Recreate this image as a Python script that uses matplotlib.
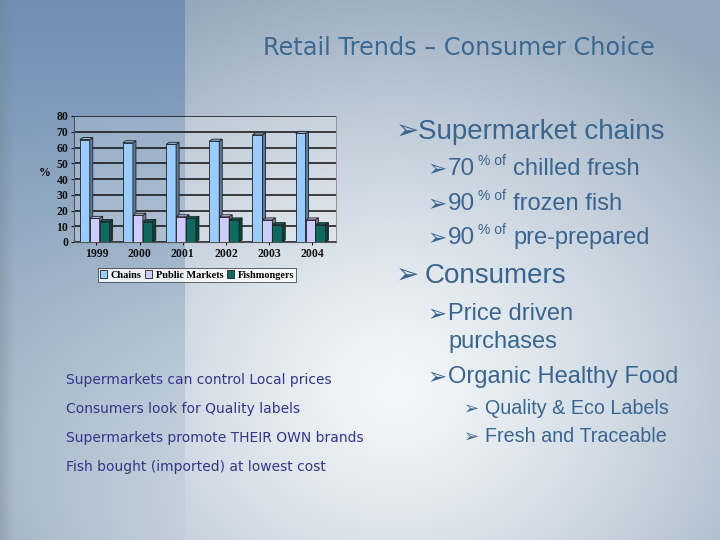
import numpy as np
import matplotlib.pyplot as plt
from matplotlib.colors import to_rgb
from matplotlib.patches import Polygon

# data
years = ['1999', '2000', '2001', '2002', '2003', '2004']
chains = [65, 63, 62, 64, 68, 69]
public_markets = [15, 17, 16, 16, 14, 14]
fishmongers = [13, 13, 15, 14, 11, 11]
series_names = ['Chains', 'Public Markets', 'Fishmongers']
series_colors = ['#99ccff', '#ccccff', '#0d6a60']

W, H = 720, 540
fig = plt.figure(figsize=(7.2, 5.4), dpi=100)

# slide background
bg = fig.add_axes([0, 0, 1, 1])
yy, xx = np.mgrid[0:H, 0:W] / np.array([H, W])[:, None, None]
d = np.sqrt(((xx - 0.55) / 0.68) ** 2 + ((yy - 0.72) / 0.8) ** 2)
light = np.array([0.95, 0.97, 0.98])
dark = np.array([0.58, 0.65, 0.73])
t = np.clip(d, 0, 1)[..., None] ** 1.3
img = light * (1 - t) + dark * t
# left band, strong at the top and fading out lower down
band = xx < 185 / W
top_c = np.array([0.44, 0.56, 0.71])
bot_c = np.array([0.70, 0.77, 0.82])
tb = yy[..., None]
band_col = top_c * (1 - tb) + bot_c * tb
mix = np.clip(1.1 - yy * 0.9, 0.15, 1)[..., None]
img = np.where(band[..., None], band_col * mix + img * (1 - mix), img)
edge = np.clip(1 - xx * W / 14, 0, 1)[..., None] * 0.35
img = img * (1 - edge) + np.array([0.45, 0.5, 0.52]) * edge
bg.imshow(img, extent=[0, W, H, 0], aspect='auto', interpolation='bilinear')
bg.set_xlim(0, W)
bg.set_ylim(H, 0)
bg.axis('off')

# title
bg.text(459, 48, 'Retail Trends \u2013 Consumer Choice', fontsize=17.3, color='#3a6891',
        ha='center', va='center', family='DejaVu Sans')

sans = ['Liberation Sans', 'DejaVu Sans']
txt_c = '#3a6591'
arrow = '\u27a2'

bg.text(396, 133, arrow, fontsize=20, color=txt_c, va='center', family=sans)
bg.text(418, 132, 'Supermarket chains', fontsize=20, color=txt_c, va='center', family=sans)

sub = [(169, '70', 'chilled fresh'), (204, '90', 'frozen fish'), (238, '90', 'pre-prepared')]
for y, num, rest in sub:
    bg.text(427, y + 1, arrow, fontsize=16.5, color=txt_c, va='center', family=sans)
    bg.text(448, y, num, fontsize=17.5, color=txt_c, va='center', family=sans)
    bg.text(478, y - 8, '% of', fontsize=10, color=txt_c, va='center', family=sans)
    bg.text(513, y, rest, fontsize=17, color=txt_c, va='center', family=sans)

bg.text(396, 277, arrow, fontsize=20, color=txt_c, va='center', family=sans)
bg.text(425, 276, 'Consumers', fontsize=20, color=txt_c, va='center', family=sans)
bg.text(427, 315, arrow, fontsize=16.5, color=txt_c, va='center', family=sans)
bg.text(448, 314, 'Price driven', fontsize=17, color=txt_c, va='center', family=sans)
bg.text(448, 342, 'purchases', fontsize=17, color=txt_c, va='center', family=sans)
bg.text(427, 378, arrow, fontsize=16.5, color=txt_c, va='center', family=sans)
bg.text(448, 377, 'Organic Healthy Food', fontsize=17, color=txt_c, va='center', family=sans)
bg.text(464, 409, arrow, fontsize=13, color=txt_c, va='center', family=sans)
bg.text(485, 408, 'Quality & Eco Labels', fontsize=14.2, color=txt_c, va='center', family=sans)
bg.text(464, 437, arrow, fontsize=13, color=txt_c, va='center', family=sans)
bg.text(485, 436, 'Fresh and Traceable', fontsize=14.2, color=txt_c, va='center', family=sans)

notes = ['Supermarkets can control Local prices', 'Consumers look for Quality labels',
         'Supermarkets promote THEIR OWN brands', 'Fish bought (imported) at lowest cost']
for i, s in enumerate(notes):
    bg.text(66, 380 + i * 29, s, fontsize=10, color='#34368c', va='center', family='DejaVu Sans')

# chart
ax = fig.add_axes([74 / W, 1 - 242 / H, (336 - 74) / W, (242 - 116) / H])
ax.set_facecolor((1, 1, 1, 0.18))
x = np.arange(len(years))
bw = 0.23
dx, dy = 0.07, 1.3
values = [chains, public_markets, fishmongers]
for k, (vals, col) in enumerate(zip(values, series_colors)):
    xs = x + (k - 1) * bw - 0.04
    ax.bar(xs, vals, width=bw, color=col, edgecolor='#222222', linewidth=0.6, zorder=3)
    rgb = to_rgb(col)
    for xi, v in zip(xs, vals):
        r = xi + bw / 2
        side = Polygon([(r, 0), (r + dx, dy), (r + dx, v + dy), (r, v)], closed=True,
                       fc=[c * 0.6 for c in rgb], ec='#222222', lw=0.6, zorder=3)
        top = Polygon([(r - bw, v), (r - bw + dx, v + dy), (r + dx, v + dy), (r, v)], closed=True,
                      fc=[c * 0.88 for c in rgb], ec='#222222', lw=0.6, zorder=3)
        ax.add_patch(side)
        ax.add_patch(top)

ax.set_ylim(0, 80)
ax.set_xlim(-0.52, len(years) - 0.45)
ax.set_yticks(range(0, 81, 10))
ax.yaxis.grid(True, color='#111111', linewidth=1.1, zorder=0)
ax.set_axisbelow(True)
ax.set_xticks(x)
ax.set_xticklabels(years)
ax.spines['top'].set_visible(False)
ax.spines['right'].set_color('#888888')
ax.spines['right'].set_linewidth(0.6)
for s in ['left', 'bottom']:
    ax.spines[s].set_color('#555555')
ax.tick_params(axis='both', length=2, pad=2, colors='#111111')
for lab in ax.get_xticklabels() + ax.get_yticklabels():
    lab.set_family('Liberation Serif')
    lab.set_fontweight('bold')
    lab.set_fontsize(8.5)
ax.set_ylabel('%', rotation=0, fontsize=8.5, fontweight='bold', family='Liberation Serif')
ax.yaxis.set_label_coords(-0.11, 0.5)

handles = [plt.Rectangle((0, 0), 1, 1, fc=c, ec='#222222', lw=0.6) for c in series_colors]
leg = fig.legend(handles, series_names, loc='center', bbox_to_anchor=(197 / W, 1 - 275 / H),
                 ncol=3, frameon=True, fancybox=False, edgecolor='#222222', handlelength=0.7,
                 handleheight=0.7, handletextpad=0.3, columnspacing=0.4, borderpad=0.2,
                 prop={'family': 'Liberation Serif', 'weight': 'bold', 'size': 7.4})
leg.get_frame().set_facecolor((1, 1, 1, 0.25))
leg.get_frame().set_linewidth(0.6)

fig.savefig('out.png', dpi=100)
